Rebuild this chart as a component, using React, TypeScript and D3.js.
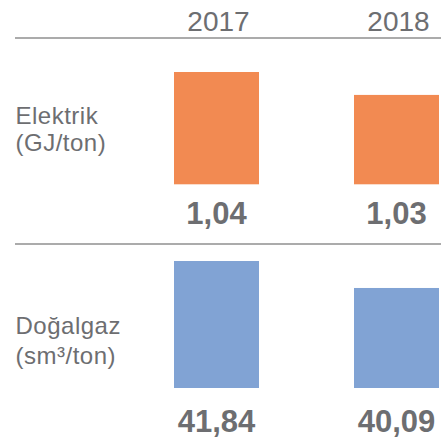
import React from "react";
import * as d3 from "d3";

const years = ["2017", "2018"];
const electricity = [1.04, 1.03];
const gas = [41.84, 40.09];
const electricityLabels = ["1,04", "1,03"];
const gasLabels = ["41,84", "40,09"];
const rowTitles = [
  ["Elektrik", "(GJ/ton)"],
  ["Doğalgaz", "(sm³/ton)"],
];

const W = 441;
const H = 446;
const textColor = "#6d6e71";
const lineColor = "#8f8f8f";
const font = "Liberation Sans, Arial, Helvetica, sans-serif";

export default function App() {
  const x = d3.scalePoint<string>().domain(years).range([216.5, 396.5]);
  const barW = 85;
  const yE = d3.scaleLinear().domain([0.991, 1.04]).range([184.3, 72]);
  const yG = d3.scaleLinear().domain([33.6, 41.84]).range([388, 261]);

  const rows = [
    { values: electricity, labels: electricityLabels, y: yE, color: "#f28a52", valueY: 224, title: rowTitles[0], titleY: [124, 151] },
    { values: gas, labels: gasLabels, y: yG, color: "#81a3d4", valueY: 432, title: rowTitles[1], titleY: [334, 364] },
  ];

  return (
    <svg width={W} height={H} style={{ position: "absolute", left: 0, top: 0 }}>
      <rect width={W} height={H} fill="#fff" />
      {years.map((yr) => (
        <text key={yr} x={x(yr)! + 2} y={30.5} textAnchor="middle" fontFamily={font} fontSize={28} fill={textColor}>
          {yr}
        </text>
      ))}
      <line x1={15} x2={W} y1={38} y2={38} stroke={lineColor} strokeWidth={1.3} />
      <line x1={15} x2={W} y1={244} y2={244} stroke={lineColor} strokeWidth={1.3} />
      {rows.map((r, ri) => (
        <g key={ri}>
          {r.title.map((t, ti) => (
            <text key={ti} x={15.5} y={r.titleY[ti]} fontFamily={font} fontSize={24} letterSpacing={0.5} fill={textColor}>
              {t}
            </text>
          ))}
          {years.map((yr, i) => {
            const y0 = r.y(r.y.domain()[0]);
            const y1 = r.y(r.values[i]);
            return (
              <g key={yr}>
                <rect x={x(yr)! - barW / 2} y={y1} width={barW} height={y0 - y1} fill={r.color} />
                <text x={x(yr)!} y={r.valueY} textAnchor="middle" fontFamily={font} fontSize={31} fontWeight="bold" fill={textColor}>
                  {r.labels[i]}
                </text>
              </g>
            );
          })}
        </g>
      ))}
    </svg>
  );
}
